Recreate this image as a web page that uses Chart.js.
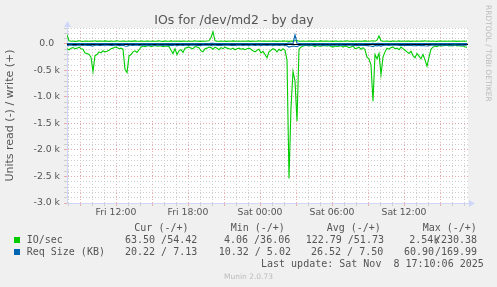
<!DOCTYPE html>
<html><head><meta charset="utf-8">
<script src="https://cdn.jsdelivr.net/npm/chart.js@4.4.1/dist/chart.umd.min.js"></script>
<style>
html,body{margin:0;padding:0;background:#F0F0F0;}
#wrap{position:relative;width:497px;height:287px;overflow:hidden;background:#F0F0F0;}
#c{position:absolute;left:0;top:0;}
.t{position:absolute;font-family:'DejaVu Sans Mono',monospace;font-size:10px;line-height:10px;color:#555;white-space:pre;}
.sq{position:absolute;width:6px;height:6px;}
#rrd{position:absolute;left:484px;top:5px;font-family:'DejaVu Sans',sans-serif;font-size:7.5px;line-height:7.5px;color:#bbbbbb;writing-mode:vertical-rl;white-space:pre;}
#munin{position:absolute;left:0;width:497px;top:272.6px;text-align:center;font-family:'DejaVu Sans',sans-serif;font-size:7.5px;line-height:7.5px;color:#bbbbbb;}
</style></head><body>
<div id="wrap">
<canvas id="c" width="497" height="287"></canvas>
<div id="rrd">RRDTOOL / TOBI OETIKER</div>
<div id="munin">Munin 2.0.73</div>
</div>
<script>
// ---- data (10-minute samples starting Fri 07:55) ----
const ioRead = [
 90,110,80,70,90,80,60,90,100,170,
 180,200,250,520,220,200,150,170,130,150,
 140,120,90,80,60,70,90,80,100,480,
 540,230,200,150,130,160,110,60,40,50,
 40,30,50,40,30,45,40,35,50,40,
 45,50,120,180,90,200,130,110,160,80,
 70,60,80,90,50,60,70,130,150,90,
 80,60,70,100,60,80,110,70,90,60,
 80,90,100,80,110,90,80,100,90,110,
 90,80,100,130,150,120,100,170,140,200,
 260,150,120,90,110,150,100,130,90,120,
 300,2540,1200,520,700,1460,100,60,40,30,
 30,40,25,35,50,30,40,45,30,35,
 40,30,50,60,40,50,45,30,60,40,
 50,70,60,40,90,80,60,100,70,110,
 250,280,400,1080,200,280,180,580,250,150,
 80,100,70,60,90,80,110,60,90,120,
 150,180,140,220,260,180,230,280,200,300,
 420,250,100,60,40,50,30,40,35,30,
 25,40,30,35,20,40,30,45,35,60,64
];
const ioWrite = [
 170,60,50,55,48,52,58,50,47,55,
 53,49,56,51,60,48,52,54,50,57,
 52,48,55,50,53,58,49,51,56,52,
 50,54,48,53,57,51,49,55,52,50,
 56,52,49,54,50,53,58,51,48,55,
 52,50,57,49,54,51,53,48,56,52,
 50,55,49,53,58,51,52,48,54,50,
 56,60,120,230,58,52,49,55,51,53,
 48,54,50,57,52,49,55,51,53,50,
 56,52,48,54,51,53,58,49,52,55,
 50,53,49,56,52,48,54,51,57,50,
 53,48,55,52,60,65,52,49,54,51,
 50,56,52,48,54,51,53,57,49,52,
 55,50,53,48,56,52,49,54,51,53,
 58,50,52,48,55,51,54,49,53,57,
 52,49,55,60,51,70,150,58,52,50,
 54,51,48,55,52,50,57,49,53,51,
 56,52,48,54,50,53,49,55,52,58,
 50,53,49,56,51,48,54,52,50,55,
 51,53,49,56,52,48,55,50,53,51,54
];
const reqRead = [
 30,25,22,28,35,24,20,26,30,22,
 28,25,32,40,24,22,27,30,25,21,
 26,24,30,28,22,25,33,27,24,38,
 45,26,23,29,25,22,28,24,20,26,
 23,27,21,25,30,22,26,24,28,22,
 25,29,23,27,22,35,26,24,30,22,
 24,28,21,26,23,27,25,30,22,26,
 24,22,28,25,21,27,24,30,23,26,
 22,25,28,24,27,21,26,23,29,25,
 24,27,22,26,30,23,25,28,24,26,
 29,24,22,27,25,23,28,24,26,30,
 35,61,48,40,45,52,30,24,22,26,
 23,27,21,25,28,22,26,24,27,23,
 25,22,28,24,26,21,27,23,25,28,
 24,26,22,28,25,30,23,27,24,29,
 32,35,40,50,30,36,28,42,30,26,
 24,28,22,26,25,23,29,24,27,25,
 28,30,26,32,35,27,31,33,28,36,
 40,30,25,22,26,23,21,25,22,24,
 21,25,23,20,24,22,26,21,23,25,20
];
const reqWrite = [
 8,7,6,8,9,7,6,8,7,9,
 7,8,6,7,9,8,7,6,8,7,
 9,7,8,6,7,8,9,7,6,8,
 7,9,8,7,6,8,7,9,8,7,
 6,8,7,9,7,8,6,7,8,9,
 7,6,8,7,9,8,7,6,8,7,
 9,7,8,6,7,9,8,7,6,8,
 7,8,10,12,8,7,9,6,8,7,
 8,6,7,9,8,7,6,8,7,9,
 7,8,6,7,9,8,7,6,8,7,
 9,7,8,6,7,8,9,7,6,8,
 10,14,12,9,170,18,8,7,9,6,
 8,7,6,8,9,7,8,6,7,9,
 7,8,6,9,7,8,7,6,8,7,
 9,7,8,6,7,9,8,7,6,8,
 7,9,8,10,7,9,12,8,7,6,
 8,7,9,6,8,7,6,8,9,7,
 7,8,6,9,7,8,7,6,8,7,
 9,7,8,6,7,8,9,7,6,8,
 7,8,6,9,7,8,7,6,8,7,7
];
const startHour = 7 + 55/60;      // Fri 07:55
const stepHours = 10/60;
const spanHours = 401/12;
const xTickHours = [12, 18, 24, 30, 36];
const xTickLabels = ['Fri 12:00', 'Fri 18:00', 'Sat 00:00', 'Sat 06:00', 'Sat 12:00'];
const yTickValues = [0, -500, -1000, -1500, -2000, -2500, -3000];
const yTickLabels = ['0.0\u2007', '-0.5 k', '-1.0 k', '-1.5 k', '-2.0 k', '-2.5 k', '-3.0 k'];
const yMin = -3000, yMax = 300;

const legendHeaders = ['Cur (-/+)', 'Min (-/+)', 'Avg (-/+)', 'Max (-/+)'];
const legendNames = ['IO/sec', 'Req Size (KB)'];
const legendColors = ['#00CC00', '#0066B3'];
const legendCur = ['63.50 /54.42', '20.22 / 7.13'];
const legendMin = ['4.06 /36.06', '10.32 / 5.02'];
const legendAvg = ['122.79 /51.73', '26.52 / 7.50'];
const legendMaxNeg = ['2.54k', '60.90'];
const legendMaxPos = ['/230.38', '/169.99'];
const lastUpdate = 'Last update: Sat Nov  8 17:10:06 2025';

// ---- build ----
const times = ioRead.map((_, i) => startHour + i * stepHours);
const pts = (arr, sign) => arr.map((v, i) => ({x: times[i], y: sign * v}));

const COL_MAJOR = '#E8AAAA';
const COL_MINOR = '#CDCDCD';
const AXIS = '#CFD6F8';
const FONT_COLOR = '#555555';

const decor = {
  id: 'decor',
  beforeDraw(chart) {
    const {ctx, chartArea: a} = chart;
    ctx.save();
    ctx.fillStyle = '#FFFFFF';
    ctx.fillRect(a.left, a.top, a.right - a.left, a.bottom - a.top);
    ctx.restore();
  },
  beforeDatasetsDraw(chart) {
    const {ctx, chartArea: a, scales} = chart;
    const y0 = Math.round(scales.y.getPixelForValue(0)) + 0.5;
    ctx.save();
    ctx.strokeStyle = '#000000';
    ctx.lineWidth = 1;
    ctx.beginPath();
    ctx.moveTo(a.left, y0); ctx.lineTo(a.right, y0);
    ctx.stroke();
    ctx.restore();
  },
  afterDraw(chart) {
    const {ctx, chartArea: a} = chart;
    ctx.save();
    ctx.strokeStyle = AXIS; ctx.fillStyle = AXIS; ctx.lineWidth = 1;
    const yb = Math.round(a.bottom) + 0.5;
    const xl = Math.round(a.left) + 0.5;
    ctx.beginPath();
    ctx.moveTo(a.right - 1, yb); ctx.lineTo(a.right + 2, yb);
    ctx.moveTo(xl, a.top + 1); ctx.lineTo(xl, a.top - 2);
    ctx.stroke();
    // x arrow
    ctx.beginPath();
    ctx.moveTo(a.right + 1, yb - 3.5); ctx.lineTo(a.right + 7, yb); ctx.lineTo(a.right + 1, yb + 3.5);
    ctx.closePath(); ctx.fill();
    // y arrow
    ctx.beginPath();
    ctx.moveTo(xl - 3.5, a.top - 1); ctx.lineTo(xl, a.top - 7); ctx.lineTo(xl + 3.5, a.top - 1);
    ctx.closePath(); ctx.fill();
    ctx.restore();
  }
};

const lineDs = (label, data, color) => ({
  label, data, borderColor: color, backgroundColor: color,
  borderWidth: 1.1, pointRadius: 0, tension: 0, fill: false
});

new Chart(document.getElementById('c'), {
  type: 'line',
  data: {
    datasets: [
      lineDs('Req Size write', pts(reqWrite, 1), '#0066B3'),
      lineDs('Req Size read', pts(reqRead, -1), '#0066B3'),
      lineDs('IO/sec write', pts(ioWrite, 1), '#00CC00'),
      lineDs('IO/sec read', pts(ioRead, -1), '#00CC00')
    ]
  },
  options: {
    responsive: false, animation: false, devicePixelRatio: 1,
    layout: {padding: {top: 0, right: 29, left: 0, bottom: 0}},
    plugins: {
      legend: {display: false},
      tooltip: {enabled: false},
      title: {
        display: true, text: 'IOs for /dev/md2 - by day', color: FONT_COLOR,
        font: {family: 'DejaVu Sans', size: 12.5, weight: 'normal', lineHeight: 1.2},
        padding: {top: 13, bottom: 0}
      }
    },
    scales: {
      x: {
        type: 'linear', min: startHour, max: startHour + spanHours,
        afterFit: s => { s.height = 84; },
        afterBuildTicks: s => {
          const t = [];
          for (let h = Math.ceil(startHour); h <= startHour + spanHours; h++) t.push({value: h});
          s.ticks = t;
        },
        ticks: {
          autoSkip: false, maxRotation: 0, padding: 1, color: FONT_COLOR,
          font: {family: 'DejaVu Sans', size: 9.3},
          callback: v => { const i = xTickHours.indexOf(Math.round(v)); return i >= 0 ? xTickLabels[i] : ''; }
        },
        grid: {
          color: c => (Math.round(c.tick.value) % 3 === 0 ? COL_MAJOR : COL_MINOR),
          tickColor: c => (Math.round(c.tick.value) % 3 === 0 ? COL_MAJOR : COL_MINOR),
          tickLength: 3, lineWidth: 1
        },
        border: {color: AXIS, width: 1, dash: [1, 2]}
      },
      y: {
        min: yMin, max: yMax,
        afterFit: s => { s.width = 67; },
        afterBuildTicks: s => {
          const t = [];
          for (let v = yMin; v <= yMax; v += 100) t.push({value: v});
          s.ticks = t;
        },
        ticks: {
          autoSkip: false, padding: 4, color: FONT_COLOR,
          font: {family: 'DejaVu Sans', size: 9.3},
          callback: v => { const i = yTickValues.indexOf(Math.round(v)); return i >= 0 ? yTickLabels[i] : ''; }
        },
        title: {
          display: true, text: 'Units read (-) / write (+)', color: FONT_COLOR,
          font: {family: 'DejaVu Sans', size: 11, weight: 'normal', lineHeight: 1.2},
          padding: {top: 4, bottom: 0}
        },
        grid: {
          color: c => (Math.round(c.tick.value) % 500 === 0 ? COL_MAJOR : COL_MINOR),
          tickColor: c => (Math.round(c.tick.value) % 500 === 0 ? COL_MAJOR : COL_MINOR),
          tickLength: 3, lineWidth: 1
        },
        border: {color: AXIS, width: 1, dash: [1, 2]}
      }
    }
  },
  plugins: [decor]
});

// ---- legend (HTML text) ----
const wrap = document.getElementById('wrap');
function addText(txt, left, top, cls) {
  const d = document.createElement('div');
  d.className = cls || 't';
  d.textContent = txt;
  d.style.left = left + 'px';
  d.style.top = top + 'px';
  wrap.appendChild(d);
}
const headerX = [134.3, 230.7, 326.7, 422.7];
legendHeaders.forEach((h, i) => addText(h, headerX[i], 222.8));
const rowTop = [234.8, 246.8];
const curX = [125, 125], minX = [224, 218.7], avgX = [305.7, 311], maxNegX = [409.3, 404], maxPosX = [435, 435];
legendNames.forEach((n, r) => {
  const sq = document.createElement('div');
  sq.className = 'sq';
  sq.style.left = '14px';
  sq.style.top = (rowTop[r] + 2.3) + 'px';
  sq.style.background = legendColors[r];
  wrap.appendChild(sq);
  addText(n, 26.7, rowTop[r]);
  addText(legendCur[r], curX[r], rowTop[r]);
  addText(legendMin[r], minX[r], rowTop[r]);
  addText(legendAvg[r], avgX[r], rowTop[r]);
  addText(legendMaxNeg[r], maxNegX[r], rowTop[r]);
  addText(legendMaxPos[r], maxPosX[r], rowTop[r]);
});
addText(lastUpdate, 261, 258.5);
</script>
</body></html>
